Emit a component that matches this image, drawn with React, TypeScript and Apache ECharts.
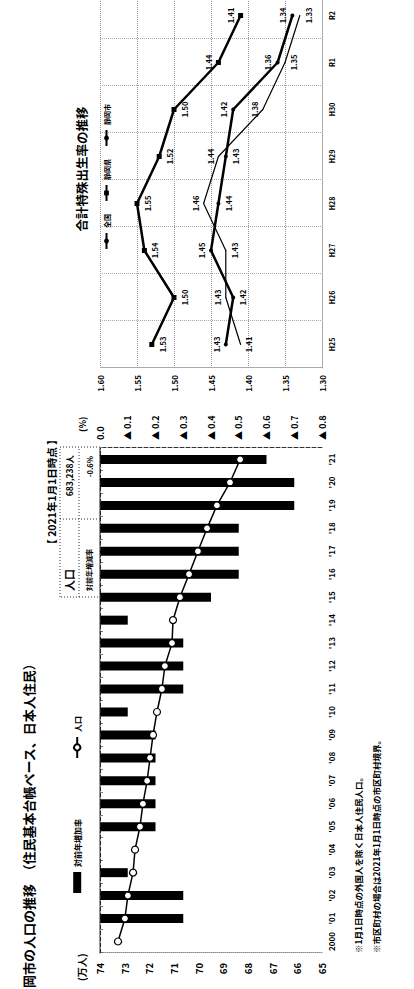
import React, { useEffect, useRef } from 'react';
import * as echarts from 'echarts';

// ---- Population chart data ----
const popYears = ['2000', "'01", "'02", "'03", "'04", "'05", "'06", "'07", "'08", "'09", "'10", "'11", "'12", "'13", "'14", "'15", "'16", "'17", "'18", "'19", "'20", "'21"];
const popValues = [73.27, 72.99, 72.87, 72.66, 72.58, 72.38, 72.26, 72.09, 71.97, 71.85, 71.69, 71.49, 71.37, 71.08, 71.04, 70.76, 70.39, 70.03, 69.66, 69.26, 68.73, 68.32];
const growthRates = [null, -0.3, -0.3, -0.1, 0, -0.2, -0.2, -0.2, -0.2, -0.2, -0.1, -0.3, -0.3, -0.3, -0.1, -0.4, -0.5, -0.5, -0.5, -0.7, -0.7, -0.6];

// ---- Total fertility rate data ----
const tfrYears = ['H25', 'H26', 'H27', 'H28', 'H29', 'H30', 'R1', 'R2'];
const tfrNational = [1.43, 1.42, 1.45, 1.44, 1.43, 1.42, 1.36, 1.34];
const tfrPref = [1.53, 1.50, 1.54, 1.55, 1.52, 1.50, 1.44, 1.41];
const tfrCity = [1.41, 1.43, 1.43, 1.46, 1.44, 1.38, 1.35, 1.33];

// label placement (style only)
const nationalLabelPos = ['top', 'bottom', 'top', 'bottom', 'bottom', 'top', 'top', 'top'];
const prefLabelPos = ['bottom', 'bottom', 'bottom', 'bottom', 'bottom', 'bottom', 'top', 'top'];
const cityLabelPos = ['bottom', 'top', 'bottom', 'top', 'top', 'top', 'bottom', 'bottom'];

const FONT = '"Noto Sans CJK JP", "Noto Sans", sans-serif';

function txt(x: number, y: number, text: string, fontSize: number, align = 'left') {
  return {
    type: 'text',
    x,
    y,
    silent: true,
    style: { text, fontSize, fontWeight: 'bold', fontFamily: FONT, fill: '#000', align, verticalAlign: 'middle' },
  };
}

function withPos(vals: number[], pos: string[]) {
  return vals.map((v, i) => ({ value: v, label: { position: pos[i] } }));
}

const tfrLabel = {
  show: true,
  fontSize: 7.5,
  fontWeight: 'bold',
  fontFamily: FONT,
  color: '#000',
  distance: 4,
  formatter: (p: any) => Number(p.value).toFixed(2),
};

const option: any = {
  animation: false,
  backgroundColor: '#fff',
  textStyle: { fontFamily: FONT, color: '#000' },
  grid: [
    { left: 36, top: 100, width: 505, height: 222 },
    { left: 621, top: 100, width: 376, height: 222 },
  ],
  legend: [
    {
      data: [{ name: '対前年増加率', icon: 'rect' }, { name: '人口' }],
      left: 96,
      top: 73,
      padding: 0,
      itemWidth: 21,
      itemHeight: 8,
      itemGap: 60,
      textStyle: { fontSize: 8, fontWeight: 'bold', fontFamily: FONT, color: '#000' },
    },
    {
      data: ['全国', '静岡県', '静岡市'],
      left: 739,
      top: 103,
      padding: 0,
      itemWidth: 16,
      itemHeight: 6,
      itemGap: 12,
      textStyle: { fontSize: 7, fontWeight: 'bold', fontFamily: FONT, color: '#000' },
    },
  ],
  xAxis: [
    {
      type: 'category',
      gridIndex: 0,
      data: popYears,
      boundaryGap: true,
      axisLine: { lineStyle: { color: '#777', width: 1.5 } },
      axisTick: { show: true, length: 3, lineStyle: { color: '#777' } },
      axisLabel: { fontSize: 8, fontWeight: 'bold', color: '#000', margin: 5, interval: 0 },
    },
    {
      type: 'category',
      gridIndex: 1,
      data: tfrYears,
      boundaryGap: true,
      axisLine: { lineStyle: { color: '#999', type: 'dotted' } },
      axisTick: { show: false },
      axisLabel: { fontSize: 7, fontWeight: 'bold', color: '#000', margin: 6 },
      splitLine: { show: true, lineStyle: { color: '#aaa', type: 'dotted' } },
    },
  ],
  yAxis: [
    {
      type: 'value',
      gridIndex: 0,
      min: 65,
      max: 74,
      interval: 1,
      position: 'left',
      axisLine: { show: true, lineStyle: { color: '#888', type: 'dotted' } },
      axisTick: { show: false },
      splitLine: { show: false },
      axisLabel: { fontSize: 9.5, fontWeight: 'bold', color: '#000', margin: 10 },
    },
    {
      type: 'value',
      gridIndex: 0,
      min: -0.8,
      max: 0,
      interval: 0.1,
      position: 'right',
      axisLine: { show: true, lineStyle: { color: '#333', type: 'dashed' } },
      axisTick: { show: false },
      splitLine: { show: false },
      axisLabel: {
        fontSize: 9,
        fontWeight: 'bold',
        color: '#000',
        margin: 8,
        formatter: (v: number) => (Math.abs(v) < 1e-9 ? '0.0' : '▲ ' + Math.abs(v).toFixed(1)),
      },
    },
    {
      type: 'value',
      gridIndex: 1,
      min: 1.3,
      max: 1.6,
      interval: 0.05,
      axisLine: { show: true, lineStyle: { color: '#aaa', type: 'dotted' } },
      axisTick: { show: false },
      splitLine: { show: true, lineStyle: { color: '#999', type: 'dotted' } },
      axisLabel: { fontSize: 8, fontWeight: 'bold', color: '#000', margin: 7, formatter: (v: number) => v.toFixed(2) },
    },
  ],
  series: [
    {
      name: '対前年増加率',
      type: 'bar',
      xAxisIndex: 0,
      yAxisIndex: 1,
      data: growthRates,
      barWidth: 9,
      itemStyle: { color: '#000' },
      markLine: {
        silent: true,
        symbol: ['none', 'none'],
        label: { show: false },
        lineStyle: { color: '#222', type: 'dashed', width: 1 },
        data: [{ yAxis: 0 }],
      },
    },
    {
      name: '人口',
      type: 'line',
      xAxisIndex: 0,
      yAxisIndex: 0,
      data: popValues,
      symbol: 'circle',
      symbolSize: 7,
      itemStyle: { color: '#fff', borderColor: '#000', borderWidth: 1.2 },
      lineStyle: { color: '#000', width: 1.5 },
      z: 5,
    },
    {
      name: '全国',
      type: 'line',
      xAxisIndex: 1,
      yAxisIndex: 2,
      data: withPos(tfrNational, nationalLabelPos),
      symbol: 'circle',
      symbolSize: 4,
      itemStyle: { color: '#000' },
      lineStyle: { color: '#000', width: 2.5 },
      label: tfrLabel,
    },
    {
      name: '静岡県',
      type: 'line',
      xAxisIndex: 1,
      yAxisIndex: 2,
      data: withPos(tfrPref, prefLabelPos),
      symbol: 'rect',
      symbolSize: 5,
      itemStyle: { color: '#000' },
      lineStyle: { color: '#000', width: 2.5 },
      label: tfrLabel,
    },
    {
      name: '静岡市',
      type: 'line',
      xAxisIndex: 1,
      yAxisIndex: 2,
      data: withPos(tfrCity, cityLabelPos),
      symbol: 'circle',
      symbolSize: 1,
      itemStyle: { color: '#000' },
      lineStyle: { color: '#000', width: 1.2 },
      label: tfrLabel,
    },
  ],
  graphic: [
    txt(1, 28, '岡市の人口の推移　（住民基本台帳ベース、日本人住民）', 13),
    txt(8, 81, '(万人)', 10),
    txt(557, 82, '(%)', 9),
    {
      type: 'rect',
      silent: true,
      shape: { x: 392, y: 60, width: 150, height: 40 },
      style: { fill: 'none', stroke: '#333', lineWidth: 1, lineDash: [1, 2] },
    },
    {
      type: 'line',
      silent: true,
      shape: { x1: 392, y1: 79, x2: 542, y2: 79 },
      style: { stroke: '#333', lineWidth: 1, lineDash: [1, 2] },
    },
    {
      type: 'line',
      silent: true,
      shape: { x1: 470, y1: 60, x2: 470, y2: 100 },
      style: { stroke: '#333', lineWidth: 1, lineDash: [1, 2] },
    },
    txt(497, 51, '【 2021年1月1日時点 】', 10.5, 'center'),
    txt(398, 69, '人口', 11),
    txt(534, 69, '683,238人', 8.5, 'right'),
    txt(398, 89, '対前年増減率', 7),
    txt(533, 89, '-0.6%', 7.5, 'right'),
    txt(36, 358, '※1月1日時点の外国人を除く日本人住民人口。', 8.5),
    txt(36, 376, '※市区町村の場合は2021年1月1日時点の市区町村境界。', 8.5),
    txt(820, 81, '合計特殊出生率の推移', 12.5, 'center'),
  ],
};

export default function App() {
  const ref = useRef<HTMLDivElement>(null);
  useEffect(() => {
    const chart = echarts.init(ref.current!, null, { renderer: 'svg' });
    chart.setOption(option);
    return () => chart.dispose();
  }, []);
  return (
    <div
      style={{
        position: 'fixed',
        left: 0,
        top: 0,
        width: 414,
        height: 989,
        overflow: 'hidden',
        background: '#fff',
      }}
    >
      <div
        ref={ref}
        style={{
          position: 'absolute',
          left: 0,
          top: 0,
          width: 1000,
          height: 414,
          transformOrigin: '0 0',
          transform: 'translateY(989px) rotate(-90deg)',
        }}
      />
    </div>
  );
}
